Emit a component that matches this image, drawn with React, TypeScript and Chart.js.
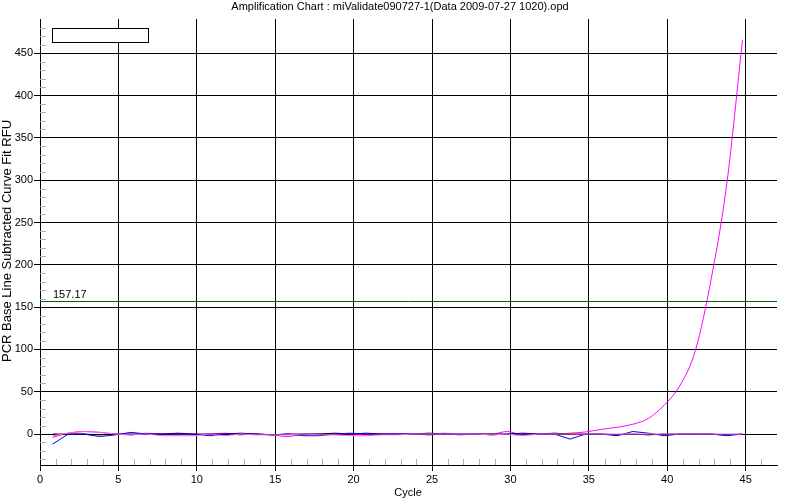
import React, { useEffect, useRef } from "react";
import { Chart, registerables } from "chart.js";

Chart.register(...registerables);

const titleText = "Amplification Chart : miValidate090727-1(Data 2009-07-27 1020).opd";
const xTitle = "Cycle";
const yTitle = "PCR Base Line Subtracted Curve Fit RFU";
const thresholdValue = 157.17;
const thresholdLabel = "157.17";

const cycles = [
  0.8, 1.8, 2.8, 3.8, 4.8, 5.8, 6.8, 7.8, 8.8, 9.8,
  10.8, 11.8, 12.8, 13.8, 14.8, 15.8, 16.8, 17.8, 18.8, 19.8,
  20.8, 21.8, 22.8, 23.8, 24.8, 25.8, 26.8, 27.8, 28.8, 29.8,
  30.8, 31.8, 32.8, 33.8, 34.8, 35.8, 36.8, 37.8, 38.8, 39.8,
  40.8, 41.8, 42.8, 43.8, 44.8,
];

const blackSeries = [
  0, 0, 0, -1, 0, 0, 0, 0, 1, 0,
  0, 0, 1, 0, -1, 0, 0, 0, 1, 0,
  1, 0, 0, 0, 1, 0, 0, 0, 0, 0,
  1, 0, 1, 0, 0, 0, -1, 0, -1, 0,
  0, 0, 0, -1, 0,
];

const blueSeries = [
  -12, 0, 0, -3, -1, 2, 0, 0, 0, 0,
  -2, 0, 0, 0, -1, 0, -2, -2, 0, 1,
  0, 0, 0, 0, -1, 0, 0, 0, -1, 0,
  0, 0, 0, -6, 0, 0, -2, 3, 1, -2,
  0, 0, 0, -2, 0,
];

const magentaSeries = [
  -4, 1, 3, 2, 0, -1, 1, 0, 0, -1,
  0, 1, -1, 0, -1, -3, 0, 0, 0, 0,
  -1, 0, 0, 0, 0, 1, -1, 0, 0, 3,
  -1, 0, 0, 1, 2.5, 5.5, 8, 11.5, 18.5, 34,
  57, 99, 183, 296, 466,
];

const pinkSeries = [
  -2, 1, 3, 2, 0, -1, 0, -2, -2, -2,
  0, -2, 0, -1, -1, -1, 0, -1, -1, -2,
  -2, -1, -1, 0, 0, 0, 0, 0, -1, 0,
  -2, 0, 0, 0, 0, 0, 0, 0, 0, 0,
  0, 0, 0, 0, 0,
];

const xTickValues = [0, 5, 10, 15, 20, 25, 30, 35, 40, 45];
const yTickValues = [0, 50, 100, 150, 200, 250, 300, 350, 400, 450];

const FONT = "'Liberation Sans', Arial, sans-serif";

const overlayPlugin = {
  id: "overlay",
  beforeDatasetsDraw(chart: any) {
    const { ctx, chartArea, scales } = chart;
    const xs = scales.x;
    const ys = scales.y;
    ctx.save();
    ctx.strokeStyle = "#b0b0b0";
    ctx.lineWidth = 1;
    ctx.beginPath();
    for (let v = 1; v <= 46; v++) {
      if (v % 5 === 0) continue;
      const px = Math.round(xs.getPixelForValue(v)) + 0.5;
      ctx.moveTo(px, chartArea.bottom - 6);
      ctx.lineTo(px, chartArea.bottom);
    }
    for (let v = -30; v <= 480; v += 10) {
      if (v % 50 === 0) continue;
      const py = Math.round(ys.getPixelForValue(v)) + 0.5;
      ctx.moveTo(chartArea.left, py);
      ctx.lineTo(chartArea.left + 6, py);
    }
    ctx.stroke();
    ctx.restore();
  },
  afterDraw(chart: any) {
    const { ctx, chartArea, scales } = chart;
    const ys = scales.y;
    ctx.save();
    const ty = Math.round(ys.getPixelForValue(thresholdValue)) + 0.5;
    ctx.strokeStyle = "#006400";
    ctx.lineWidth = 1;
    ctx.beginPath();
    ctx.moveTo(chartArea.left, ty);
    ctx.lineTo(chartArea.right, ty);
    ctx.stroke();
    ctx.fillStyle = "#000";
    ctx.font = `11px ${FONT}`;
    ctx.textAlign = "left";
    ctx.textBaseline = "middle";
    ctx.fillText(thresholdLabel, chartArea.left + 13, ty - 7);
    ctx.fillStyle = "#fff";
    ctx.fillRect(52, 28, 96, 14);
    ctx.strokeStyle = "#000";
    ctx.strokeRect(52.5, 28.5, 96, 14);
    ctx.fillStyle = "#000";
    ctx.font = `11px ${FONT}`;
    ctx.textAlign = "center";
    ctx.textBaseline = "middle";
    ctx.fillText(titleText, 400, 7);
    ctx.fillText(xTitle, 408, 493);
    ctx.translate(7, 241);
    ctx.rotate(-Math.PI / 2);
    ctx.font = `13px ${FONT}`;
    ctx.fillText(yTitle, 0, 0);
    ctx.restore();
  },
};

function makeData(values: number[]) {
  return cycles.map((c, i) => ({ x: c, y: values[i] }));
}

export default function App() {
  const ref = useRef<HTMLCanvasElement | null>(null);
  useEffect(() => {
    if (!ref.current) return;
    const ds = (label: string, values: number[], color: string, smooth = false) => ({
      label,
      data: makeData(values),
      borderColor: color,
      backgroundColor: color,
      borderWidth: 1,
      pointRadius: 0,
      tension: smooth ? 0.4 : 0,
      cubicInterpolationMode: smooth ? "monotone" : "default",
      fill: false,
    });
    const chart = new Chart(ref.current, {
      type: "line",
      data: {
        datasets: [
          ds("Pink", pinkSeries, "#ff66cc"),
          ds("Blue", blueSeries, "#0000ff"),
          ds("Black", blackSeries, "#000000"),
          ds("Magenta", magentaSeries, "#ff00ff", true),
        ],
      },
      options: {
        animation: false,
        responsive: false,
        layout: { padding: { top: 19, right: 23, left: 0, bottom: 0 } },
        plugins: {
          legend: { display: false },
          title: { display: false },
          tooltip: { enabled: false },
        },
        scales: {
          x: {
            type: "linear",
            min: 0,
            max: 47,
            afterBuildTicks: (s: any) => {
              s.ticks = xTickValues.map((v) => ({ value: v }));
            },
            afterFit: (s: any) => {
              s.height = 35;
            },
            grid: { color: "#000", lineWidth: 1, tickLength: 6, drawTicks: true },
            border: { display: true, color: "#000", width: 1 },
            ticks: {
              color: "#000",
              font: { family: FONT, size: 11 },
              padding: 2,
              maxRotation: 0,
            },
          },
          y: {
            type: "linear",
            min: -36.6,
            max: 490.5,
            afterBuildTicks: (s: any) => {
              s.ticks = yTickValues.map((v) => ({ value: v }));
            },
            afterFit: (s: any) => {
              s.width = 40;
            },
            grid: { color: "#000", lineWidth: 1, tickLength: 6, drawTicks: true },
            border: { display: true, color: "#000", width: 1 },
            ticks: {
              color: "#000",
              font: { family: FONT, size: 11 },
              padding: 1,
            },
          },
        },
      },
      plugins: [overlayPlugin],
    } as any);
    return () => chart.destroy();
  }, []);
  return (
    <div style={{ position: "fixed", left: 0, top: 0, width: 800, height: 500, background: "#fff" }}>
      <canvas ref={ref} width={800} height={500} style={{ width: 800, height: 500 }} />
    </div>
  );
}
